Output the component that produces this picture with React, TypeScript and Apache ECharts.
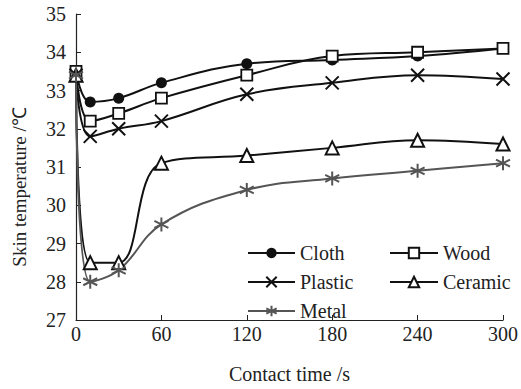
import React, { useEffect, useRef } from "react";
import * as echarts from "echarts";

const times = [0, 10, 30, 60, 120, 180, 240, 300];
const cloth = [33.5, 32.7, 32.8, 33.2, 33.7, 33.8, 33.9, 34.1];
const wood = [33.5, 32.2, 32.4, 32.8, 33.4, 33.9, 34.0, 34.1];
const plastic = [33.4, 31.8, 32.0, 32.2, 32.9, 33.2, 33.4, 33.3];
const ceramic = [33.4, 28.5, 28.5, 31.1, 31.3, 31.5, 31.7, 31.6];
const metal = [33.4, 28.0, 28.3, 29.5, 30.4, 30.7, 30.9, 31.1];

const xLabel = "Contact time /s";
const yLabel = "Skin temperature /℃";

const FONT = "Liberation Serif";
const XPATH = "path://M0,0 L10,10 M10,0 L0,10";
const STARPATH = "path://M5,0 L5,10 M0.7,2.5 L9.3,7.5 M0.7,7.5 L9.3,2.5";

export default function App() {
  const ref = useRef<HTMLDivElement>(null);
  useEffect(() => {
    if (!ref.current) return;
    const chart = echarts.init(ref.current, undefined, { renderer: "svg" });
    const mk = (arr: number[]) => times.map((t, i) => [t, arr[i]]);
    const base = (name: string, arr: number[], color: string, width: number) => ({
      name,
      type: "line",
      smooth: 0.4,
      data: mk(arr),
      lineStyle: { color, width },
      z: 2,
    });
    const legendText = { fontFamily: FONT, fontSize: 20, color: "#222", lineHeight: 20 };
    const leg = (name: string, left: number, top: number, w: number) => ({
      data: [name],
      orient: "vertical",
      left,
      top,
      padding: 0,
      itemWidth: w,
      itemHeight: 13,
      textStyle: legendText,
    });
    chart.setOption({
      animation: false,
      textStyle: { fontFamily: FONT },
      grid: { left: 76, right: 16, top: 14, bottom: 64 },
      xAxis: {
        type: "value",
        min: 0,
        max: 300,
        interval: 60,
        name: xLabel,
        nameLocation: "middle",
        nameGap: 44,
        nameTextStyle: { fontFamily: FONT, fontSize: 20, color: "#222" },
        axisLine: { lineStyle: { color: "#222", width: 1.2 } },
        axisTick: { inside: true, length: 5, lineStyle: { color: "#222" } },
        axisLabel: { fontFamily: FONT, fontSize: 20, color: "#222", margin: 4 },
        splitLine: { show: false },
      },
      yAxis: {
        type: "value",
        min: 27,
        max: 35,
        interval: 1,
        axisLine: { show: true, lineStyle: { color: "#222", width: 1.2 } },
        axisTick: { show: true, inside: true, length: 5, lineStyle: { color: "#222" } },
        axisLabel: { fontFamily: FONT, fontSize: 20, color: "#222", margin: 10 },
        splitLine: { show: false },
      },
      graphic: [
        {
          type: "text",
          x: 19,
          y: 187,
          rotation: Math.PI / 2,
          style: {
            text: yLabel,
            font: `19px ${FONT}`,
            fill: "#222",
            textAlign: "center",
            textVerticalAlign: "middle",
          },
        },
      ],
      legend: [
        leg("Cloth", 247, 243, 47),
        leg("Plastic", 247, 272, 47),
        leg("Metal", 247, 301, 47),
        leg("Wood", 389, 243, 48),
        leg("Ceramic", 389, 272, 48),
      ],
      series: [
        {
          ...base("Cloth", cloth, "#111", 2),
          symbol: "circle",
          symbolSize: 11,
          itemStyle: { color: "#111", borderWidth: 0 },
        },
        {
          ...base("Wood", wood, "#111", 2),
          symbol: "rect",
          symbolSize: 11,
          itemStyle: { color: "#fff", borderColor: "#111", borderWidth: 1.8 },
        },
        {
          ...base("Plastic", plastic, "#111", 2),
          symbol: XPATH,
          symbolSize: 13,
          itemStyle: { color: "transparent", borderColor: "#111", borderWidth: 2 },
        },
        {
          ...base("Ceramic", ceramic, "#111", 2),
          symbol: "triangle",
          symbolSize: 13,
          itemStyle: { color: "#fff", borderColor: "#111", borderWidth: 2 },
        },
        {
          ...base("Metal", metal, "#555", 2),
          symbol: STARPATH,
          symbolSize: 14,
          itemStyle: { color: "transparent", borderColor: "#555", borderWidth: 2 },
        },
      ],
    });
    return () => chart.dispose();
  }, []);
  return (
    <div
      ref={ref}
      style={{ position: "fixed", left: 0, top: 0, width: 521, height: 389, background: "#fff" }}
    />
  );
}
